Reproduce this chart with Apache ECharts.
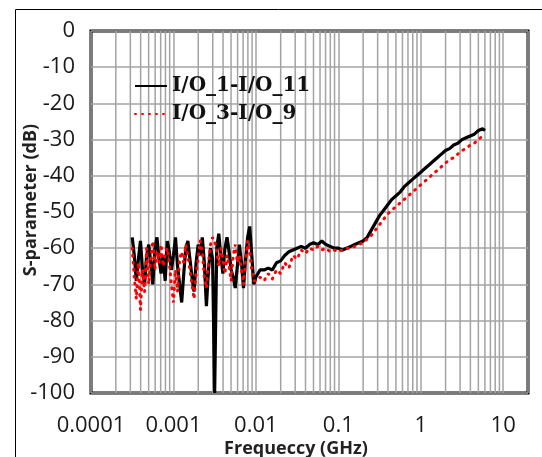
<!DOCTYPE html>
<html>
<head>
<meta charset="utf-8">
<script src="https://cdn.jsdelivr.net/npm/echarts@6/dist/echarts.min.js"></script>
<style>
  html, body { margin: 0; padding: 0; background: #fff; }
  #chart { width: 542px; height: 457px; }
</style>
</head>
<body>
<div id="chart"></div>
<script>
// Sweep frequencies (GHz)
const freqGHz = [
  0.0003162, 0.000335, 0.0003548, 0.0003758, 0.0003981, 0.0004217, 0.0004467, 0.0004732, 0.0005012, 0.0005309,
  0.0005623, 0.0005957, 0.000631, 0.0006683, 0.0007079, 0.0007499, 0.0007943, 0.0008414, 0.0008913, 0.0009441,
  0.001, 0.001059, 0.001122, 0.001189, 0.001259, 0.001334, 0.001413, 0.001496, 0.001585, 0.001679,
  0.001778, 0.001884, 0.001995, 0.002113, 0.002239, 0.002371, 0.002512, 0.002661, 0.002818, 0.002985,
  0.003162, 0.00335, 0.003548, 0.003758, 0.003981, 0.004217, 0.004467, 0.004732, 0.005012, 0.005309,
  0.005623, 0.005957, 0.00631, 0.006683, 0.007079, 0.007499, 0.007943, 0.008414, 0.008913, 0.009441,
  0.01, 0.01122, 0.01259, 0.01413, 0.01585, 0.01778, 0.01995, 0.02239, 0.02512, 0.02818,
  0.03162, 0.03548, 0.03981, 0.04467, 0.05012, 0.05623, 0.0631, 0.07079, 0.07943, 0.08913,
  0.1, 0.1122, 0.1259, 0.1413, 0.1585, 0.1778, 0.1995, 0.2239, 0.2512, 0.2818,
  0.3162, 0.3548, 0.3981, 0.4467, 0.5012, 0.5623, 0.631, 0.7079, 0.7943, 0.8913,
  1, 1.122, 1.259, 1.413, 1.585, 1.778, 1.995, 2.239, 2.512, 2.818,
  3.162, 3.548, 3.981, 4.467, 5.012, 5.623, 6.026
];

// Coupling I/O_1 -> I/O_11 (dB)
const s_io1_io11 = [
  -57, -62, -69, -63, -58, -66, -70, -62, -59, -64,
  -70, -60, -57, -63, -67, -62, -69, -58, -61, -66,
  -62, -57, -65, -70, -75, -67, -60, -58, -63, -68,
  -72, -64, -59, -62, -57, -64, -76, -66, -60, -63,
  -100, -60, -56, -62, -67, -60, -57, -61, -66, -68,
  -71, -65, -59, -64, -71, -63, -57, -54, -62, -70,
  -68, -66, -66, -65.5, -66, -64, -63.5, -62, -61, -60.5,
  -60, -59.5, -60, -59, -58.5, -59, -58, -59, -59.5, -60,
  -60, -60.5, -60, -59.5, -59, -58.5, -58, -57, -55, -53,
  -51, -49.5, -48, -46.5, -45.5, -44.5, -43, -42, -41, -40,
  -39, -38, -37, -36, -35, -34, -33, -32.5, -31.5, -31,
  -30, -29.5, -29, -28.5, -27.5, -27, -27.5
];

// Coupling I/O_3 -> I/O_9 (dB)
const s_io3_io9 = [
  -60, -68, -74, -64, -77, -66, -72, -60, -70, -63,
  -58, -66, -61, -64, -59, -65, -62, -60, -64, -70,
  -75, -66, -72, -63, -61, -64, -59, -62, -66, -70,
  -74, -67, -63, -58, -61, -68, -71, -64, -59, -57,
  -58, -61, -65, -60, -63, -67, -62, -65, -69, -62,
  -59, -64, -62, -66, -70, -64, -58, -61, -66, -69,
  -69, -68, -69, -67, -68.5, -66, -67, -64, -65.5, -62,
  -63, -60.5, -61.5, -60, -60.5, -59.5, -60.5, -60, -61, -60.5,
  -61, -60.5, -60, -60, -59.5, -59, -58.5, -57.5, -56.5, -55,
  -53.5, -52, -50.5, -49.5, -48.5, -47.5, -46.5, -45.5, -44.5, -43.5,
  -42.5, -41.5, -40.5, -39.5, -38.5, -37.5, -36.5, -35.5, -35, -34,
  -33, -32.5, -31.5, -31, -30, -29, -29
];

const seriesNames = ['I/O_1-I/O_11', 'I/O_3-I/O_9'];
const xTickLabels = [0.0001, 0.001, 0.01, 0.1, 1, 10];
const xMin = 0.0001, xMax = 20;
const yMin = -100, yMax = 0, yStep = 10;

// minor log gridlines: 2..9 within each decade
const minorGrid = [];
xTickLabels.forEach(d => {
  for (let k = 2; k <= 9; k++) {
    const v = k * d;
    if (v < xMax) minorGrid.push(v);
  }
});

const gridColor = '#a3a3a3';
const labelFont = '"Open Sans", "Noto Sans", sans-serif';

const chart = echarts.init(document.getElementById('chart'), null, { renderer: 'canvas' });

chart.setOption({
  animation: false,
  backgroundColor: '#fff',
  grid: {
    left: 91, top: 31, right: 14, bottom: 64,
    show: true, borderColor: '#000', borderWidth: 3, backgroundColor: 'transparent'
  },
  legend: {
    data: seriesNames.map(n => ({ name: n, itemStyle: { opacity: 0 } })),
    orient: 'vertical',
    left: 129, top: 71,
    itemWidth: 32, itemHeight: 20, itemGap: 8,
    itemStyle: { opacity: 0 },
    textStyle: { fontFamily: 'DejaVu Serif', fontWeight: 'bold', fontSize: 20, color: '#111' },
    selectedMode: false
  },
  xAxis: {
    type: 'log', logBase: 10, min: xMin, max: xMax,
    axisLine: { show: false }, axisTick: { show: false },
    splitLine: { show: true, lineStyle: { color: gridColor, width: 1.5 } },
    axisLabel: {
      fontFamily: labelFont, fontSize: 22, color: '#1a1a1a', margin: 22,
      formatter: v => {
        const hit = xTickLabels.find(t => Math.abs(Math.log10(v) - Math.log10(t)) < 1e-6);
        return hit === undefined ? '' : String(hit);
      }
    }
  },
  yAxis: {
    type: 'value', min: yMin, max: yMax, interval: yStep,
    axisLine: { show: false }, axisTick: { show: false },
    splitLine: { show: true, lineStyle: { color: gridColor, width: 1.5 } },
    axisLabel: { fontFamily: labelFont, fontSize: 22, color: '#1a1a1a', margin: 16 }
  },
  graphic: [
    { type: 'polyline', silent: true, shape: { points: [[15.5, 457], [15.5, 9.5], [542, 9.5]] },
      style: { stroke: '#000', lineWidth: 1, fill: null } },
    { type: 'text', silent: true, x: 296, y: 449,
      style: { text: 'Frequeccy (GHz)', font: 'bold 18px "Open Sans", sans-serif', fill: '#222',
               textAlign: 'center', textVerticalAlign: 'middle' } },
    { type: 'text', silent: true, x: 31, y: 200, rotation: Math.PI / 2,
      style: { text: 'S-parameter (dB)', font: 'bold 18px "Open Sans", sans-serif', fill: '#222',
               textAlign: 'center', textVerticalAlign: 'middle' } }
  ],
  series: [
    {
      // minor vertical gridlines of the log axis
      type: 'custom', silent: true, z: 1,
      data: minorGrid.map(v => [v, yMin]),
      encode: { x: 0, y: 1 },
      renderItem: (params, api) => {
        const top = api.coord([api.value(0), yMax]);
        const bot = api.coord([api.value(0), yMin]);
        return {
          type: 'line',
          shape: { x1: top[0], y1: top[1], x2: bot[0], y2: bot[1] },
          style: { stroke: gridColor, lineWidth: 1.5 }
        };
      }
    },
    {
      name: seriesNames[0], type: 'line', z: 3,
      data: freqGHz.map((f, i) => [f, s_io1_io11[i]]),
      symbol: 'none', showSymbol: false,
      lineStyle: { color: '#000', width: 3.2 }, itemStyle: { color: '#000' }
    },
    {
      name: seriesNames[1], type: 'line', z: 4,
      data: freqGHz.map((f, i) => [f, s_io3_io9[i]]),
      symbol: 'none', showSymbol: false,
      lineStyle: { color: '#ff0000', width: 3, type: [1, 6], cap: 'round' }, itemStyle: { color: '#ff0000' }
    }
  ]
});
</script>
</body>
</html>
